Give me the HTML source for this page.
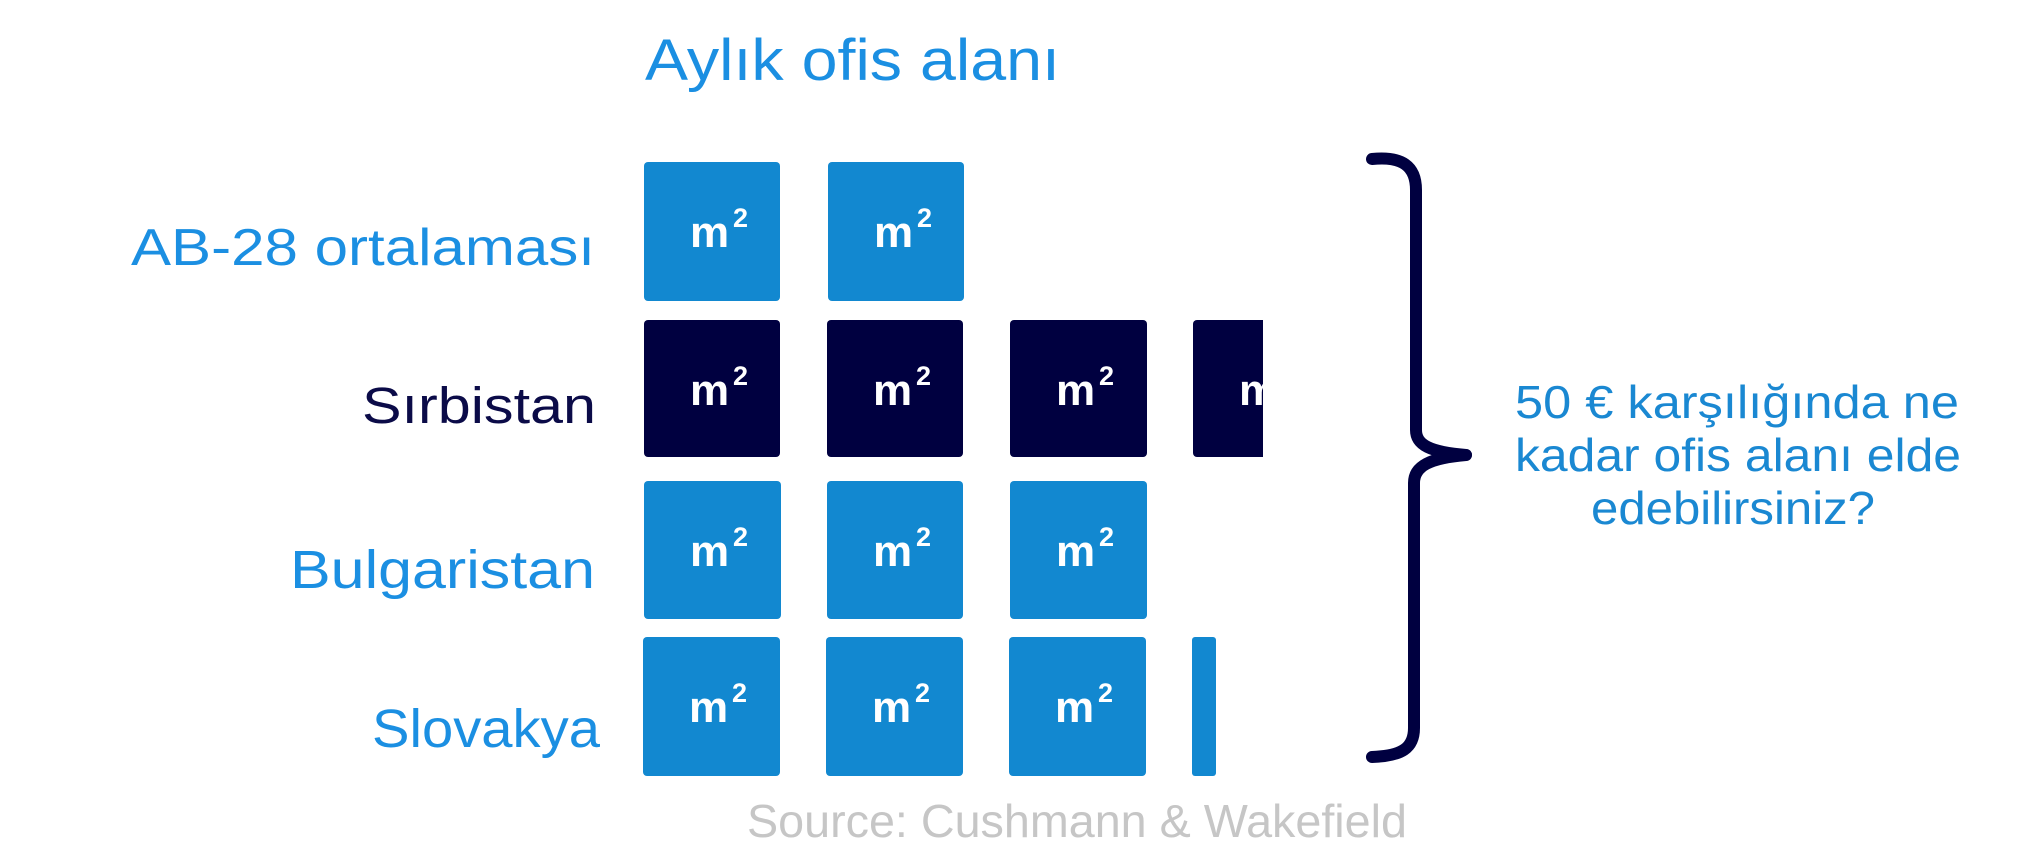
<!DOCTYPE html>
<html>
<head>
<meta charset="utf-8">
<style>
  html,body{margin:0;padding:0;background:#ffffff;}
  svg{display:block;}
</style>
</head>
<body>
<svg width="2042" height="866" viewBox="0 0 2042 866" xmlns="http://www.w3.org/2000/svg">
  <defs>
    <clipPath id="c4"><rect x="1180" y="300" width="83" height="170"/></clipPath>
  </defs>
  <rect width="2042" height="866" fill="#ffffff"/>

  <!-- Title -->
  <text x="645" y="80" font-family="Liberation Sans, sans-serif" font-size="58" fill="#1b8fe2" textLength="415" lengthAdjust="spacingAndGlyphs">Aylık ofis alanı</text>

  <!-- Labels -->
  <g font-family="Liberation Sans, sans-serif">
    <text x="131" y="265" font-size="52" fill="#1b8fe2" textLength="464" lengthAdjust="spacingAndGlyphs">AB-28 ortalaması</text>
    <text x="362" y="423" font-size="51" fill="#0b0b48" textLength="234" lengthAdjust="spacingAndGlyphs">Sırbistan</text>
    <text x="290" y="588" font-size="54" fill="#1b8fe2" textLength="305" lengthAdjust="spacingAndGlyphs">Bulgaristan</text>
    <text x="372" y="747" font-size="54" fill="#1b8fe2" textLength="228" lengthAdjust="spacingAndGlyphs">Slovakya</text>
  </g>

  <!-- Row 1: AB-28 -->
  <g fill="#1288d0">
    <rect x="644" y="162" width="136" height="139" rx="4"/>
    <rect x="828" y="162" width="136" height="139" rx="4"/>
  </g>
  <!-- Row 2: Sirbistan -->
  <g fill="#000040">
    <rect x="644" y="320" width="136" height="137" rx="4"/>
    <rect x="827" y="320" width="136" height="137" rx="4"/>
    <rect x="1010" y="320" width="137" height="137" rx="4"/>
    <rect x="1193" y="320" width="136" height="137" rx="4" clip-path="url(#c4)"/>
  </g>
  <!-- Row 3: Bulgaristan -->
  <g fill="#1288d0">
    <rect x="644" y="481" width="137" height="138" rx="4"/>
    <rect x="827" y="481" width="136" height="138" rx="4"/>
    <rect x="1010" y="481" width="137" height="138" rx="4"/>
  </g>
  <!-- Row 4: Slovakya -->
  <g fill="#1288d0">
    <rect x="643" y="637" width="137" height="139" rx="4"/>
    <rect x="826" y="637" width="137" height="139" rx="4"/>
    <rect x="1009" y="637" width="137" height="139" rx="4"/>
    <rect x="1192" y="637" width="24" height="139" rx="3"/>
  </g>

  <!-- m² labels -->
  <g font-family="Liberation Sans, sans-serif" font-weight="bold" fill="#ffffff">
    <!-- row 1 -->
    <text x="690" y="247" font-size="44">m</text><text x="733" y="227" font-size="27">2</text>
    <text x="874" y="247" font-size="44">m</text><text x="917" y="227" font-size="27">2</text>
    <!-- row 2 -->
    <text x="690" y="405" font-size="44">m</text><text x="733" y="385" font-size="27">2</text>
    <text x="873" y="405" font-size="44">m</text><text x="916" y="385" font-size="27">2</text>
    <text x="1056" y="405" font-size="44">m</text><text x="1099" y="385" font-size="27">2</text>
    <g clip-path="url(#c4)"><text x="1239" y="405" font-size="44">m</text></g>
    <!-- row 3 -->
    <text x="690" y="566" font-size="44">m</text><text x="733" y="546" font-size="27">2</text>
    <text x="873" y="566" font-size="44">m</text><text x="916" y="546" font-size="27">2</text>
    <text x="1056" y="566" font-size="44">m</text><text x="1099" y="546" font-size="27">2</text>
    <!-- row 4 -->
    <text x="689" y="722" font-size="44">m</text><text x="732" y="702" font-size="27">2</text>
    <text x="872" y="722" font-size="44">m</text><text x="915" y="702" font-size="27">2</text>
    <text x="1055" y="722" font-size="44">m</text><text x="1098" y="702" font-size="27">2</text>
  </g>

  <!-- Brace -->
  <g fill="none" stroke="#000040" stroke-width="12" stroke-linecap="round" stroke-linejoin="round">
    <path d="M1372,159 C1402,156 1416,166 1416,190 L1416,430 C1416,445 1430,452 1466,455"/>
    <path d="M1466,455 C1430,458 1414,466 1414,483 L1414,728 C1414,748 1402,756 1372,757"/>
  </g>

  <!-- Right question text -->
  <g font-family="Liberation Sans, sans-serif" font-size="46" fill="#1a88d2">
    <text x="1515" y="418" textLength="444" lengthAdjust="spacingAndGlyphs">50 € karşılığında ne</text>
    <text x="1515" y="471" textLength="446" lengthAdjust="spacingAndGlyphs">kadar ofis alanı elde</text>
    <text x="1591" y="524" textLength="284" lengthAdjust="spacingAndGlyphs">edebilirsiniz?</text>
  </g>

  <!-- Source -->
  <text x="747" y="837" font-family="Liberation Sans, sans-serif" font-size="46" fill="#c6c6c6" textLength="660" lengthAdjust="spacingAndGlyphs">Source: Cushmann &amp; Wakefield</text>
</svg>
</body>
</html>
